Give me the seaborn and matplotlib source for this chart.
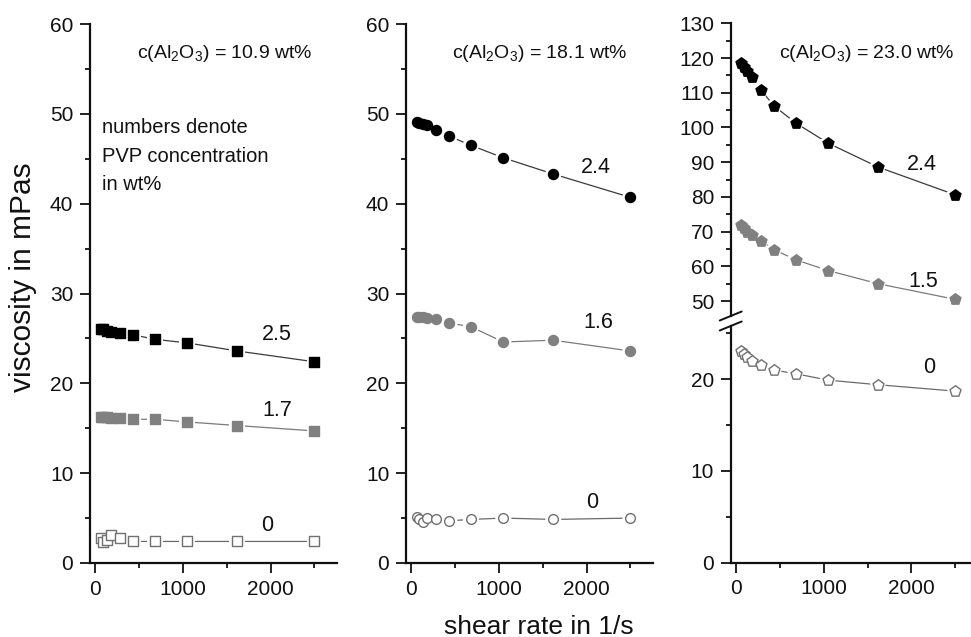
import matplotlib
matplotlib.use("Agg")
import matplotlib.pyplot as plt
from matplotlib.ticker import MultipleLocator
import pandas as pd
import seaborn as sns

# ---------------------------------------------------------------- data
shear_rate = [60, 90, 130, 185, 280, 435, 680, 1050, 1620, 2500]   # 1/s

# c(Al2O3) = 10.9 wt%
visc_109_pvp25 = [26.1, 26.0, 25.8, 25.7, 25.6, 25.4, 24.9, 24.5, 23.6, 22.4]
visc_109_pvp17 = [16.3, 16.2, 16.2, 16.1, 16.1, 16.0, 16.0, 15.7, 15.3, 14.7]
visc_109_pvp0 = [2.8, 2.3, 2.6, 3.1, 2.8, 2.4, 2.4, 2.4, 2.4, 2.4]

# c(Al2O3) = 18.1 wt%
visc_181_pvp24 = [49.1, 49.0, 48.9, 48.8, 48.2, 47.5, 46.5, 45.1, 43.3, 40.7]
visc_181_pvp16 = [27.4, 27.4, 27.4, 27.3, 27.2, 26.7, 26.3, 24.6, 24.8, 23.6]
visc_181_pvp0 = [5.1, 4.9, 4.6, 5.0, 4.85, 4.7, 4.85, 5.0, 4.85, 5.0]

# c(Al2O3) = 23.0 wt%
visc_230_pvp24 = [118.5, 117.5, 116.2, 114.4, 110.9, 106.2, 101.3, 95.5, 88.6, 80.6]
visc_230_pvp15 = [72.0, 71.0, 70.0, 69.0, 67.4, 64.8, 61.9, 58.8, 55.0, 50.5]
visc_230_pvp0 = [23.1, 22.8, 22.4, 22.0, 21.6, 21.0, 20.6, 19.9, 19.4, 18.7]

alumina_titles = [r"c(Al$_2$O$_3$) = 10.9 wt%",
                  r"c(Al$_2$O$_3$) = 18.1 wt%",
                  r"c(Al$_2$O$_3$) = 23.0 wt%"]
pvp_109 = ["2.5", "1.7", "0"]
pvp_181 = ["2.4", "1.6", "0"]
pvp_230 = ["2.4", "1.5", "0"]

# ---------------------------------------------------------------- style
sns.set_style("ticks")
plt.rcParams["font.family"] = ["Liberation Sans", "DejaVu Sans"]
plt.rcParams["mathtext.fontset"] = "custom"
plt.rcParams["mathtext.rm"] = "Liberation Sans"
plt.rcParams["mathtext.it"] = "Liberation Sans:italic"
plt.rcParams["mathtext.default"] = "rm"

INK = "#111111"
BLACK_STYLE = dict(face="#000000", edge="#000000", line="#3a3a3a")
GREY_STYLE = dict(face="#808080", edge="#808080", line="#7a7a7a")
OPEN_STYLE = dict(face="#ffffff", edge="#707070", line="#6a6a6a")

W, H = 971, 637
fig = plt.figure(figsize=(W / 100, H / 100), dpi=100)
fig.patch.set_facecolor("white")

XLIM = (-60, 2760)
AX_W = 247.3 / W


def fig_rect(left_px, top_px, bottom_px):
    return [left_px / W, (H - bottom_px) / H, AX_W, (bottom_px - top_px) / H]


def style_axes(ax, major_y, minor_y, show_x=True):
    ax.set_xlim(*XLIM)
    for side in ("top", "right"):
        ax.spines[side].set_visible(False)
    for side in ("left", "bottom"):
        ax.spines[side].set_linewidth(1.6)
        ax.spines[side].set_color(INK)
    ax.yaxis.set_major_locator(MultipleLocator(major_y))
    ax.yaxis.set_minor_locator(MultipleLocator(minor_y))
    ax.xaxis.set_major_locator(MultipleLocator(1000))
    ax.xaxis.set_minor_locator(MultipleLocator(500))
    ax.tick_params(which="major", direction="out", length=7, width=1.3,
                   labelsize=15, pad=5, color=INK, labelcolor=INK)
    ax.tick_params(which="minor", direction="out", length=3.5, width=1.3,
                   color=INK)
    if not show_x:
        ax.spines["bottom"].set_visible(False)
        ax.tick_params(axis="x", which="both", bottom=False,
                       labelbottom=False)
    ax.set_facecolor("white")


def draw_series(ax, values, marker, size, st):
    df = pd.DataFrame({"shear": shear_rate, "visc": values})
    sns.lineplot(data=df, x="shear", y="visc", ax=ax, color=st["line"],
                 lw=0.9, estimator=None, sort=False, zorder=2)
    # white halo leaves a small gap between the line and each symbol
    sns.scatterplot(data=df, x="shear", y="visc", ax=ax, marker=marker,
                    s=(size + 4.5) ** 2, color="white", edgecolor="none",
                    linewidth=0, zorder=3, legend=False)
    sns.scatterplot(data=df, x="shear", y="visc", ax=ax, marker=marker,
                    s=size ** 2, color=st["face"], edgecolor=st["edge"],
                    linewidth=1.0, zorder=4, legend=False)
    ax.set(xlabel="", ylabel="")


# ---------------------------------------------------------------- panel 1
ax1 = fig.add_axes(fig_rect(90, 24, 563))
draw_series(ax1, visc_109_pvp25, "s", 7.0, BLACK_STYLE)
draw_series(ax1, visc_109_pvp17, "s", 7.0, GREY_STYLE)
draw_series(ax1, visc_109_pvp0, "s", 6.8, OPEN_STYLE)
style_axes(ax1, 10, 5)
ax1.set_ylim(0, 60)
ax1.text(479, 56.2, alumina_titles[0], fontsize=14, ha="left",
         va="baseline", color=INK)
ax1.text(73, 49.5, "numbers denote\nPVP concentration\nin wt%",
         fontsize=14.5, ha="left", va="top", linespacing=1.62, color=INK)
for txt, x, y in zip(pvp_109, [2068, 2077, 1963], [25.4, 17.0, 4.2]):
    ax1.text(x, y, txt, fontsize=15.5, ha="center", va="center", color=INK)

# ---------------------------------------------------------------- panel 2
ax2 = fig.add_axes(fig_rect(406, 24, 563))
draw_series(ax2, visc_181_pvp24, "o", 7.2, BLACK_STYLE)
draw_series(ax2, visc_181_pvp16, "o", 7.2, GREY_STYLE)
draw_series(ax2, visc_181_pvp0, "o", 7.0, OPEN_STYLE)
style_axes(ax2, 10, 5)
ax2.set_ylim(0, 60)
ax2.text(467, 56.2, alumina_titles[1], fontsize=14, ha="left",
         va="baseline", color=INK)
for txt, x, y in zip(pvp_181, [2101, 2137, 2064], [44.0, 26.8, 6.7]):
    ax2.text(x, y, txt, fontsize=15.5, ha="center", va="center", color=INK)

# ---------------------------------------------------------------- panel 3 (broken y axis)
ax3u = fig.add_axes(fig_rect(730.7, 23.3, 316))
ax3l = fig.add_axes(fig_rect(730.7, 326, 562.7))
draw_series(ax3u, visc_230_pvp24, "p", 8.3, BLACK_STYLE)
draw_series(ax3u, visc_230_pvp15, "p", 8.3, GREY_STYLE)
draw_series(ax3l, visc_230_pvp0, "p", 8.3, OPEN_STYLE)
style_axes(ax3u, 10, 5, show_x=False)
style_axes(ax3l, 10, 5)
ax3u.set_ylim(45.7, 130)
ax3l.set_ylim(0, 25.8)
ax3l.spines["left"].set_bounds(0, 25.8)
ax3u.text(486, 120.0, alumina_titles[2], fontsize=14, ha="left",
          va="baseline", color=INK)
for txt, x, y, ax in zip(pvp_230, [2121, 2130, 2204], [89.2, 55.6, 21.3],
                         [ax3u, ax3u, ax3l]):
    ax.text(x, y, txt, fontsize=15.5, ha="center", va="center", color=INK)

# break symbol on the left spine
bx = 11 / 247.3
by_u = 4.5 / (316 - 23.3)
by_l = 4.5 / (562.7 - 326)
brk = dict(color=INK, lw=1.4, clip_on=False, zorder=10)
ax3u.plot([-bx, bx], [-by_u, by_u], transform=ax3u.transAxes, **brk)
ax3l.plot([-bx, bx], [1 - by_l, 1 + by_l], transform=ax3l.transAxes, **brk)

# ---------------------------------------------------------------- axis titles
fig.text(23 / W, 1 - 277.5 / H, "viscosity in mPas", rotation=90,
         fontsize=21.5, ha="center", va="center", color=INK)
fig.text(539 / W, 3.5 / H, "shear rate in 1/s", fontsize=19,
         ha="center", va="baseline", color=INK)

fig.savefig("out.png", dpi=100, facecolor="white")
